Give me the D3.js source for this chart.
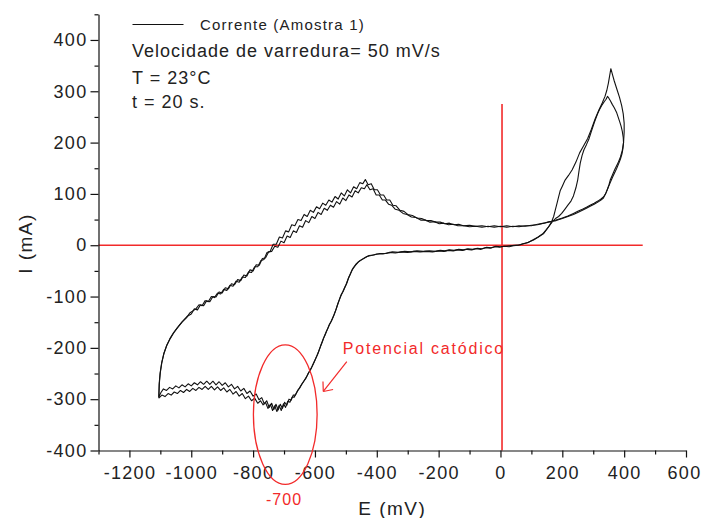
<!DOCTYPE html>
<html><head><meta charset="utf-8">
<script src="https://cdn.jsdelivr.net/npm/d3@7"></script>
<style>
html,body{margin:0;padding:0;background:#fff;}
svg{display:block;}
text{font-family:"Liberation Sans",Arial,Helvetica,sans-serif;}
</style>
</head><body>
<svg id="chart" width="703" height="518"></svg>
<script>
// ---- data: E (mV), I (mA) pairs, two voltammetric cycles ----
const cycle1 = [[-1105,-296],[-1104,-272],[-1101,-250],[-1096,-230],[-1089,-212],[-1080,-196],[-1070,-184],[-1058,-172],[-1045,-161],[-1030,-150],[-1015,-141],
[-1005,-132],[-995,-128],[-985,-124],[-975,-116],[-965,-118],[-955,-108],[-945,-110],[-935,-100],[-925,-102],[-915,-93],[-905,-95],[-895,-86],[-885,-88],[-875,-78],[-865,-80],[-855,-70],[-845,-72],[-835,-62],[-825,-63],[-815,-52],[-805,-53],[-795,-42],[-785,-42],[-775,-30],[-765,-28],[-755,-14],[-745,-12],[-735,2],[-725,2],[-715,16],[-705,14],[-695,28],[-685,26],[-675,40],[-665,38],[-655,50],[-645,48],[-635,60],[-625,56],[-615,68],[-605,64],[-595,75],[-585,71],[-575,82],[-565,78],[-555,88],[-545,84],[-535,95],[-525,90],[-515,102],[-505,96],[-495,108],[-485,102],[-475,114],[-465,110],[-455,122],[-445,120],[-437,128],[-428,118],[-418,120],[-408,108],[-398,108],[-388,98],[-378,98],[-368,88],[-358,88],[-348,78],[-338,77],[-325,68],[-312,66],[-300,60],[-285,58],[-270,53],[-255,52],[-240,48],[-225,48],[-210,45],[-195,45],[-180,42],[-165,43],[-150,40],[-135,41],[-120,38],[-100,39],[-80,37],[-60,38],[-40,36],[-20,38],[0,36],[20,38],[40,36],[60,38],[80,37],[100,39],[120,40],[140,43],[160,46],[180,49],[200,53],[218,57],[236,62],[250,66],[265,70],[278,74],[290,78],[303,82],[315,86],[325,90],[333,94],[340,100],[346,109],[351,118],[355,127],[362,137],[370,148],[380,160],[388,172],[394,185],[398,200],[400,220],[400,238],[397,256],[392,272],[385,288],[376,305],[368,320],[362,333],[357,344],[353,330],[349,316],[344,302],[338,290],[329,277],[318,263],[306,246],[294,226],[282,208],[268,193],[256,180],[244,162],[232,147],[220,136],[209,127],[200,115],[193,106],[188,94],[183,82],[177,68],[172,56],[164,44],[156,36],[148,30],[140,23],[125,17],[107,10],[90,6],[75,3],[64,1],[45,0],[30,-1],[15,-2],[0,-3],[-15,-2],[-30,-5],[-45,-4],[-60,-7],[-75,-6],[-90,-8],[-105,-7],[-120,-9],[-135,-8],[-150,-10],[-165,-9],[-180,-11],[-195,-10],[-210,-12],[-230,-11],[-250,-12],[-270,-11],[-290,-13],[-310,-12],[-330,-14],[-350,-13],[-370,-16],[-390,-16],[-410,-19],[-425,-20],[-440,-25],[-455,-30],[-466,-36],[-476,-44],[-484,-54],[-490,-62],[-497,-74],[-503,-82],[-509,-90],[-515,-96],[-520,-104],[-526,-114],[-531,-124],[-536,-132],[-541,-140],[-547,-148],[-553,-154],[-558,-162],[-563,-168],[-568,-176],[-573,-182],[-579,-192],[-585,-202],[-591,-212],[-597,-220],[-603,-228],[-609,-236],[-616,-244],[-622,-250],[-628,-258],[-635,-264],[-642,-270],[-649,-278],[-656,-283],[-663,-292],[-670,-292],[-677,-302],[-684,-300],[-691,-312],[-698,-306],[-705,-318],[-712,-310],[-719,-321],[-726,-310],[-733,-320],[-740,-308],[-748,-316],[-756,-303],[-764,-309],[-772,-297],[-781,-301],[-790,-290],[-800,-294],[-810,-284],[-820,-289],[-830,-279],[-840,-284],[-850,-275],[-860,-280],[-870,-271],[-880,-276],[-890,-268],[-900,-273],[-910,-266],[-920,-272],[-930,-265],[-940,-271],[-950,-265],[-960,-271],[-970,-266],[-980,-272],[-990,-268],[-1000,-274],[-1010,-270],[-1020,-276],[-1030,-272],[-1040,-278],[-1050,-274],[-1060,-280],[-1070,-277],[-1080,-283],[-1090,-280],[-1098,-287],[-1105,-296]];

const cycle2 = [[-1105,-298],[-1103,-268],[-1100,-248],[-1095,-228],[-1088,-210],[-1079,-195],[-1069,-182],[-1057,-170],[-1044,-160],[-1029,-149],[-1014,-139],
[-1000,-134],[-990,-124],[-980,-126],[-970,-116],[-960,-118],[-950,-108],[-940,-110],[-930,-100],[-920,-101],[-910,-91],[-900,-93],[-890,-83],[-880,-85],[-870,-75],[-860,-77],[-850,-67],[-840,-69],[-830,-58],[-820,-60],[-810,-48],[-800,-50],[-790,-38],[-780,-39],[-770,-26],[-760,-25],[-750,-13],[-740,-12],[-730,-2],[-720,-4],[-710,8],[-700,5],[-690,18],[-680,15],[-670,28],[-660,25],[-650,38],[-640,35],[-630,48],[-620,44],[-610,56],[-600,52],[-590,64],[-580,60],[-570,72],[-560,68],[-550,78],[-540,74],[-530,85],[-520,80],[-510,92],[-500,87],[-490,98],[-480,94],[-470,106],[-460,102],[-450,112],[-440,110],[-432,118],[-422,108],[-412,110],[-402,98],[-392,98],[-382,88],[-372,88],[-362,80],[-352,78],[-340,70],[-328,68],[-315,62],[-302,60],[-288,55],[-273,54],[-258,49],[-243,49],[-228,45],[-213,46],[-198,42],[-183,43],[-168,40],[-153,41],[-138,38],[-120,38],[-100,36],[-80,37],[-60,35],[-40,37],[-20,35],[0,37],[20,35],[40,37],[60,36],[80,38],[100,38],[120,41],[140,43],[160,46],[180,48],[200,52],[218,56],[236,60],[250,64],[265,68],[278,72],[290,76],[303,80],[315,84],[325,88],[333,92],[341,102],[348,112],[355,122],[362,132],[370,142],[376,150],[383,160],[388,168],[393,178],[396,188],[398,200],[397,210],[394,222],[390,232],[386,240],[376,258],[368,268],[362,274],[355,282],[350,287],[346,290],[341,284],[336,280],[327,272],[320,264],[314,256],[304,240],[294,222],[286,207],[278,196],[270,186],[264,175],[258,160],[254,145],[250,128],[244,112],[236,96],[228,86],[218,78],[208,70],[198,62],[188,56],[178,52],[168,46],[158,38],[148,30],[138,23],[122,16],[104,10],[88,5],[72,3],[58,0],[42,-1],[28,-3],[12,-2],[-3,-4],[-18,-3],[-33,-6],[-48,-5],[-63,-8],[-78,-7],[-93,-9],[-108,-8],[-123,-10],[-138,-9],[-153,-11],[-168,-10],[-183,-12],[-200,-11],[-220,-13],[-240,-12],[-260,-13],[-280,-12],[-300,-14],[-320,-13],[-340,-15],[-360,-14],[-380,-17],[-400,-17],[-418,-20],[-432,-22],[-448,-28],[-460,-33],[-470,-40],[-480,-48],[-487,-58],[-493,-66],[-499,-76],[-505,-84],[-511,-92],[-517,-100],[-522,-108],[-528,-118],[-533,-127],[-538,-135],[-543,-142],[-549,-150],[-555,-157],[-560,-164],[-565,-171],[-570,-178],[-576,-188],[-582,-197],[-588,-207],[-594,-216],[-600,-224],[-606,-232],[-612,-240],[-619,-247],[-625,-254],[-632,-261],[-639,-268],[-646,-274],[-653,-281],[-660,-288],[-667,-296],[-674,-296],[-681,-306],[-688,-304],[-695,-316],[-702,-309],[-709,-322],[-716,-312],[-723,-324],[-730,-313],[-737,-322],[-744,-310],[-752,-318],[-760,-306],[-768,-311],[-776,-303],[-785,-308],[-795,-298],[-805,-303],[-815,-294],[-825,-299],[-835,-289],[-845,-294],[-855,-285],[-865,-290],[-875,-281],[-885,-286],[-895,-278],[-905,-283],[-915,-276],[-925,-282],[-935,-275],[-945,-281],[-955,-275],[-965,-281],[-975,-277],[-985,-283],[-995,-279],[-1005,-285],[-1015,-281],[-1025,-287],[-1035,-283],[-1045,-289],[-1055,-286],[-1065,-292],[-1075,-289],[-1085,-295],[-1095,-292],[-1105,-298]];

const xTicks = [-1200,-1000,-800,-600,-400,-200,0,200,400,600];
const xMinorTicks = [-1300,-1100,-900,-700,-500,-300,-100,100,300,500];
const yTicks = [-400,-300,-200,-100,0,100,200,300,400];
const yMinorTicks = [-350,-250,-150,-50,50,150,250,350,450];
const xDomain = [-1300, 600];
const yDomain = [-400, 450];
const xLabel = "E (mV)";
const yLabel = "I (mA)";
const legendLabel = "Corrente (Amostra 1)";
const infoLines = ["Velocidade de varredura= 50 mV/s", "T = 23°C", "t = 20 s."];
const peakLabel = "-700";
const peakE = -700;
const annotationText = "Potencial catódico";

// ---- layout ----
const W = 703, H = 518;
const svg = d3.select("#chart");
const x = d3.scaleLinear().domain(xDomain).range([98.5, 686]);
const y = d3.scaleLinear().domain(yDomain).range([450.5, 14.3]);
const red = "#f22a2a";
const fmt = d => String(d);   // plain hyphen-minus like the original

// red reference lines
svg.append("line").attr("x1", x(-1300)).attr("x2", x(460)).attr("y1", y(0)).attr("y2", y(0))
  .attr("stroke", red).attr("stroke-width", 1.6);
svg.append("line").attr("x1", x(5)).attr("x2", x(5)).attr("y1", y(275)).attr("y2", y(-400))
  .attr("stroke", red).attr("stroke-width", 1.6);

// curves
const line = d3.line().x(d => x(d[0])).y(d => y(d[1]));
[cycle1, cycle2].forEach(c => {
  svg.append("path").attr("d", line(c)).attr("fill", "none")
    .attr("stroke", "#111").attr("stroke-width", 1.1).attr("stroke-linejoin", "round");
});

// axes
const fontTick = 18;
const xAxis = svg.append("g").attr("transform", `translate(0,${y(-400)})`)
  .call(d3.axisBottom(x).tickValues(xTicks).tickSize(7).tickSizeOuter(0).tickPadding(9).tickFormat(fmt));
svg.append("g").attr("transform", `translate(0,${y(-400)})`)
  .call(d3.axisBottom(x).tickValues(xMinorTicks).tickSize(4).tickFormat(""))
  .call(g => g.select(".domain").remove());
const yAxis = svg.append("g").attr("transform", `translate(${x(-1300)},0)`)
  .call(d3.axisLeft(y).tickValues(yTicks).tickSize(8).tickSizeOuter(0).tickPadding(3).tickFormat(fmt));
svg.append("g").attr("transform", `translate(${x(-1300)},0)`)
  .call(d3.axisLeft(y).tickValues(yMinorTicks).tickSize(4).tickFormat(""))
  .call(g => g.select(".domain").remove());
svg.selectAll(".domain, .tick line").attr("stroke", "#111").attr("stroke-width", 1.2);
[xAxis, yAxis].forEach(g => g.selectAll("text")
  .attr("font-size", fontTick).attr("fill", "#222").attr("letter-spacing", 1.3)
  .attr("font-family", "Liberation Sans, Arial, sans-serif"));
xAxis.selectAll("text").filter(d => d === 600).attr("dx", -2);

// axis titles
svg.append("text").attr("x", x(-350)).attr("y", 515).attr("text-anchor", "middle")
  .attr("font-size", 19).attr("letter-spacing", 1.5).attr("fill", "#222").text(xLabel);
svg.append("text").attr("transform", "translate(32,243.5) rotate(-90)").attr("text-anchor", "middle")
  .attr("font-size", 19).attr("letter-spacing", 1.5).attr("fill", "#222").text(yLabel);

// legend + info
svg.append("line").attr("x1", 132.5).attr("x2", 183.5).attr("y1", 24.5).attr("y2", 24.5)
  .attr("stroke", "#111").attr("stroke-width", 1.1);
svg.append("text").attr("x", 200).attr("y", 30).attr("font-size", 15).attr("letter-spacing", 1.2)
  .attr("fill", "#222").text(legendLabel);
const infoY = [56.5, 84, 107.5];
infoLines.forEach((t, i) => svg.append("text").attr("x", 132).attr("y", infoY[i])
  .attr("font-size", 18).attr("letter-spacing", 1.0).attr("fill", "#222").text(t));

// cathodic peak annotation
svg.append("ellipse").attr("cx", x(peakE + 4)).attr("cy", y(-330))
  .attr("rx", x(peakE + 103) - x(peakE)).attr("ry", y(-330) - y(-194))
  .attr("fill", "none").attr("stroke", red).attr("stroke-width", 1.3);
svg.append("text").attr("x", x(peakE)).attr("y", 505).attr("text-anchor", "middle")
  .attr("font-size", 16).attr("letter-spacing", 1).attr("fill", red).text(peakLabel);
svg.append("text").attr("x", x(-510)).attr("y", y(-212)).attr("font-size", 16).attr("letter-spacing", 1.8)
  .attr("fill", red).text(annotationText);
const a0 = [x(-497), y(-227)], a1 = [x(-573), y(-285)];
svg.append("line").attr("x1", a0[0]).attr("y1", a0[1]).attr("x2", a1[0]).attr("y2", a1[1])
  .attr("stroke", red).attr("stroke-width", 1.2);
const ang = Math.atan2(a0[1] - a1[1], a0[0] - a1[0]);
[-0.7, 0.7].forEach(dA => {
  svg.append("line").attr("x1", a1[0]).attr("y1", a1[1])
    .attr("x2", a1[0] + 10 * Math.cos(ang + dA)).attr("y2", a1[1] + 10 * Math.sin(ang + dA))
    .attr("stroke", red).attr("stroke-width", 1.2);
});
</script>
</body></html>
